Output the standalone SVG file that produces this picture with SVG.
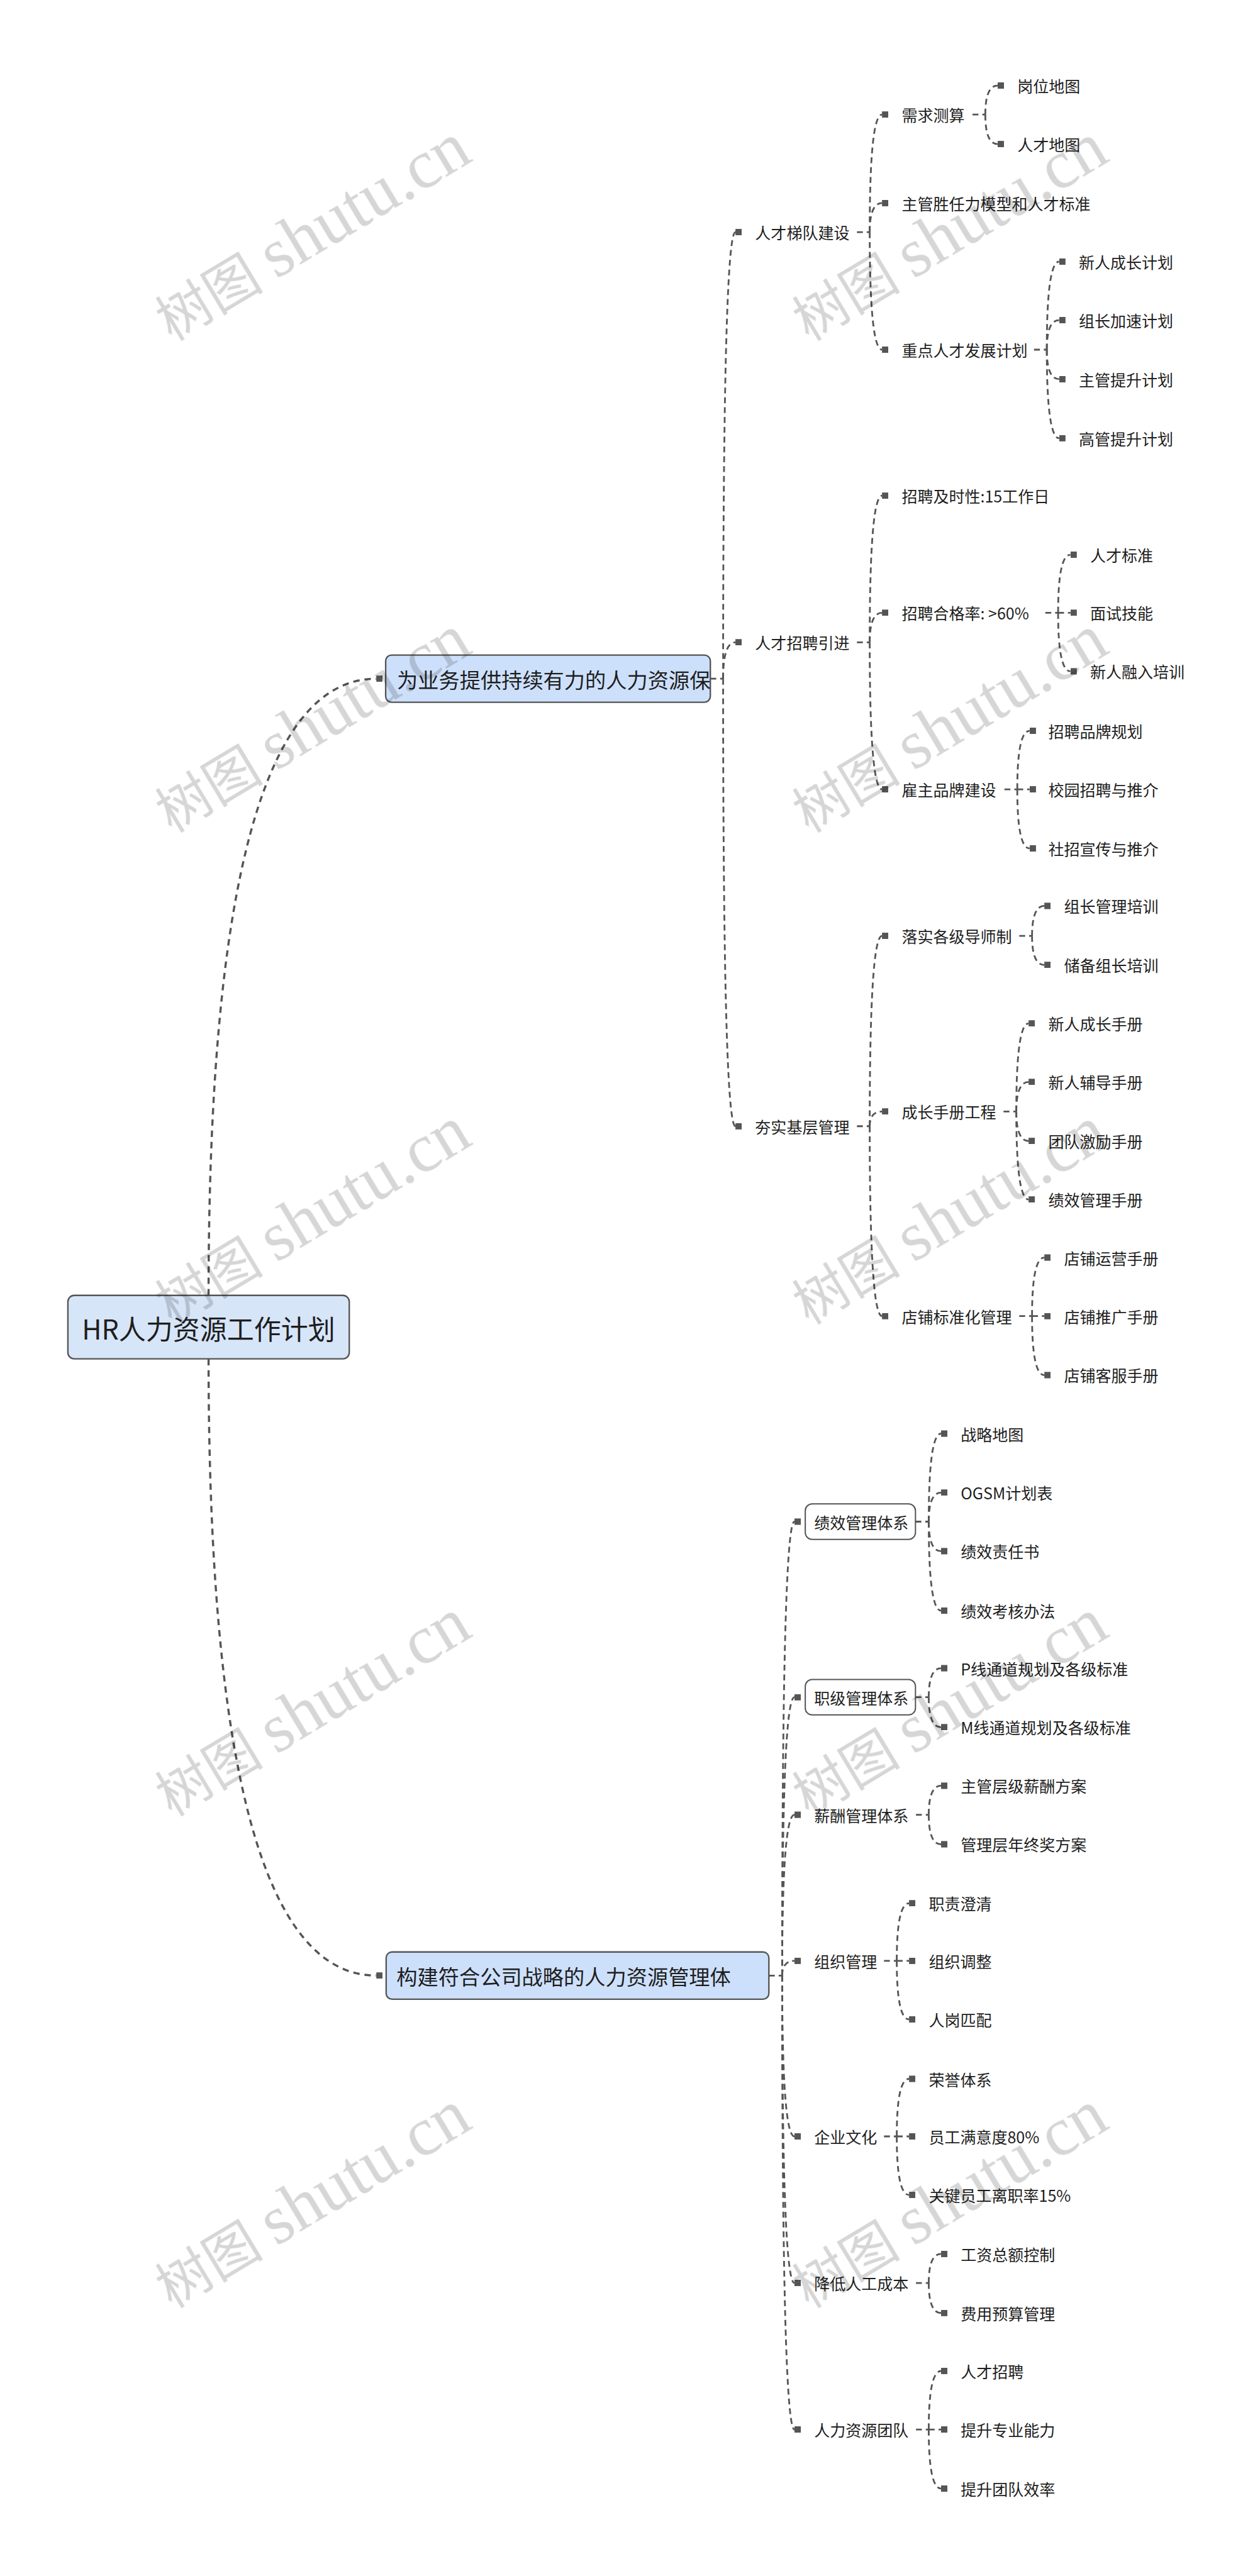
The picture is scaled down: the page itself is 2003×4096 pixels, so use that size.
<svg xmlns="http://www.w3.org/2000/svg" width="2003" height="4096" viewBox="0 0 2003 4096">
<style>
.c{fill:none;stroke:#555;stroke-width:3.6;stroke-dasharray:12 8;marker-end:url(#sq)}
.s{fill:none;stroke:#555;stroke-width:3.6;stroke-dasharray:12 8}
.c0{stroke-width:4.4;stroke-dasharray:13 10}
.t{font-family:"Noto Sans CJK SC","Noto Sans",sans-serif;font-size:32px;fill:#1e1e1e;dominant-baseline:central}
.t1{font-size:42.5px}
.t0{font-size:55px;text-anchor:middle}
.b0{fill:#d7e5f8;stroke:#555;stroke-width:3}
.b1{fill:#cde0fb;stroke:#555;stroke-width:3}
.b2{fill:#fff;stroke:#555;stroke-width:2.6}
.wm{font-family:"Liberation Serif","Noto Sans CJK SC",serif;fill:#d6d6d6;mix-blend-mode:multiply}
</style>
<defs>
<marker id="sq" viewBox="0 0 13 13" refX="0" refY="6.5" markerWidth="13" markerHeight="13" markerUnits="userSpaceOnUse" orient="0"><rect width="13" height="13" fill="#555"/></marker>
</defs>
<rect width="2003" height="4096" fill="#fff"/>
<g transform="scale(0.782)">
<g id="connectors">
<path class="c c0" d="M424 2634Q424 1380 765 1380"/>
<path class="c c0" d="M424 2763Q424 4017 765 4017"/>
<path class="s" d="M1444 1380H1470"/>
<path class="c" d="M1470 1380Q1470 472 1495 472"/>
<path class="c" d="M1470 1380Q1470 1306 1495 1306"/>
<path class="c" d="M1470 1380Q1470 2290 1495 2290"/>
<path class="s" d="M1742 472H1768"/>
<path class="c" d="M1768 472Q1768 233 1793 233"/>
<path class="c" d="M1768 472Q1768 413 1793 413"/>
<path class="c" d="M1768 472Q1768 711 1793 711"/>
<path class="s" d="M1977 233H2003"/>
<path class="c" d="M2003 233Q2003 174 2028 174"/>
<path class="c" d="M2003 233Q2003 293 2028 293"/>
<path class="s" d="M2102 711H2128"/>
<path class="c" d="M2128 711Q2128 532 2153 532"/>
<path class="c" d="M2128 711Q2128 651 2153 651"/>
<path class="c" d="M2128 711Q2128 771 2153 771"/>
<path class="c" d="M2128 711Q2128 891 2153 891"/>
<path class="s" d="M1742 1306H1768"/>
<path class="c" d="M1768 1306Q1768 1008 1793 1008"/>
<path class="c" d="M1768 1306Q1768 1246 1793 1246"/>
<path class="c" d="M1768 1306Q1768 1605 1793 1605"/>
<path class="s" d="M2125 1246H2151"/>
<path class="c" d="M2151 1246Q2151 1128 2176 1128"/>
<path class="c" d="M2151 1246H2176"/>
<path class="c" d="M2151 1246Q2151 1365 2176 1365"/>
<path class="s" d="M2042 1605H2068"/>
<path class="c" d="M2068 1605Q2068 1486 2093 1486"/>
<path class="c" d="M2068 1605H2093"/>
<path class="c" d="M2068 1605Q2068 1725 2093 1725"/>
<path class="s" d="M1742 2290H1768"/>
<path class="c" d="M1768 2290Q1768 1903 1793 1903"/>
<path class="c" d="M1768 2290Q1768 2260 1793 2260"/>
<path class="c" d="M1768 2290Q1768 2676 1793 2676"/>
<path class="s" d="M2072 1903H2098"/>
<path class="c" d="M2098 1903Q2098 1842 2123 1842"/>
<path class="c" d="M2098 1903Q2098 1962 2123 1962"/>
<path class="s" d="M2040 2260H2066"/>
<path class="c" d="M2066 2260Q2066 2081 2091 2081"/>
<path class="c" d="M2066 2260Q2066 2200 2091 2200"/>
<path class="c" d="M2066 2260Q2066 2320 2091 2320"/>
<path class="c" d="M2066 2260Q2066 2439 2091 2439"/>
<path class="s" d="M2072 2676H2098"/>
<path class="c" d="M2098 2676Q2098 2557 2123 2557"/>
<path class="c" d="M2098 2676H2123"/>
<path class="c" d="M2098 2676Q2098 2796 2123 2796"/>
<path class="s" d="M1563 4017H1590"/>
<path class="c" d="M1590 4017Q1590 3094 1615 3094"/>
<path class="c" d="M1590 4017Q1590 3451 1615 3451"/>
<path class="c" d="M1590 4017Q1590 3690 1615 3690"/>
<path class="c" d="M1590 4017Q1590 3987 1615 3987"/>
<path class="c" d="M1590 4017Q1590 4344 1615 4344"/>
<path class="c" d="M1590 4017Q1590 4642 1615 4642"/>
<path class="c" d="M1590 4017Q1590 4940 1615 4940"/>
<path class="s" d="M1861 3094H1888"/>
<path class="c" d="M1888 3094Q1888 2915 1913 2915"/>
<path class="c" d="M1888 3094Q1888 3035 1913 3035"/>
<path class="c" d="M1888 3094Q1888 3154 1913 3154"/>
<path class="c" d="M1888 3094Q1888 3275 1913 3275"/>
<path class="s" d="M1861 3451H1888"/>
<path class="c" d="M1888 3451Q1888 3392 1913 3392"/>
<path class="c" d="M1888 3451Q1888 3512 1913 3512"/>
<path class="s" d="M1862 3690H1888"/>
<path class="c" d="M1888 3690Q1888 3631 1913 3631"/>
<path class="c" d="M1888 3690Q1888 3750 1913 3750"/>
<path class="s" d="M1797 3987H1823"/>
<path class="c" d="M1823 3987Q1823 3870 1848 3870"/>
<path class="c" d="M1823 3987H1848"/>
<path class="c" d="M1823 3987Q1823 4106 1848 4106"/>
<path class="s" d="M1797 4344H1823"/>
<path class="c" d="M1823 4344Q1823 4227 1848 4227"/>
<path class="c" d="M1823 4344H1848"/>
<path class="c" d="M1823 4344Q1823 4463 1848 4463"/>
<path class="s" d="M1862 4642H1888"/>
<path class="c" d="M1888 4642Q1888 4583 1913 4583"/>
<path class="c" d="M1888 4642Q1888 4703 1913 4703"/>
<path class="s" d="M1862 4940H1888"/>
<path class="c" d="M1888 4940Q1888 4821 1913 4821"/>
<path class="c" d="M1888 4940H1913"/>
<path class="c" d="M1888 4940Q1888 5060 1913 5060"/>
</g>
<g id="n0"><rect class="b0" x="138" y="2634" width="572" height="129" rx="13"/><text class="t t0" x="424" y="2699">HR人力资源工作计划</text></g>
<g id="n1"><rect class="b1" x="784" y="1332" width="660" height="96" rx="12"/><text class="t t1" x="807" y="1380">为业务提供持续有力的人力资源保</text></g>
<g id="n1-1"><text class="t" x="1535" y="472">人才梯队建设</text></g>
<g id="n1-1-1"><text class="t" x="1833" y="233">需求测算</text></g>
<g id="n1-1-1-1"><text class="t" x="2068" y="174">岗位地图</text></g>
<g id="n1-1-1-2"><text class="t" x="2068" y="293">人才地图</text></g>
<g id="n1-1-2"><text class="t" x="1833" y="413">主管胜任力模型和人才标准</text></g>
<g id="n1-1-3"><text class="t" x="1833" y="711">重点人才发展计划</text></g>
<g id="n1-1-3-1"><text class="t" x="2193" y="532">新人成长计划</text></g>
<g id="n1-1-3-2"><text class="t" x="2193" y="651">组长加速计划</text></g>
<g id="n1-1-3-3"><text class="t" x="2193" y="771">主管提升计划</text></g>
<g id="n1-1-3-4"><text class="t" x="2193" y="891">高管提升计划</text></g>
<g id="n1-2"><text class="t" x="1535" y="1306">人才招聘引进</text></g>
<g id="n1-2-1"><text class="t" x="1833" y="1008">招聘及时性:15工作日</text></g>
<g id="n1-2-2"><text class="t" x="1833" y="1246">招聘合格率: &gt;60%</text></g>
<g id="n1-2-2-1"><text class="t" x="2216" y="1128">人才标准</text></g>
<g id="n1-2-2-2"><text class="t" x="2216" y="1246">面试技能</text></g>
<g id="n1-2-2-3"><text class="t" x="2216" y="1365">新人融入培训</text></g>
<g id="n1-2-3"><text class="t" x="1833" y="1605">雇主品牌建设</text></g>
<g id="n1-2-3-1"><text class="t" x="2131" y="1486">招聘品牌规划</text></g>
<g id="n1-2-3-2"><text class="t" x="2131" y="1605">校园招聘与推介</text></g>
<g id="n1-2-3-3"><text class="t" x="2131" y="1725">社招宣传与推介</text></g>
<g id="n1-3"><text class="t" x="1535" y="2290">夯实基层管理</text></g>
<g id="n1-3-1"><text class="t" x="1833" y="1903">落实各级导师制</text></g>
<g id="n1-3-1-1"><text class="t" x="2163" y="1842">组长管理培训</text></g>
<g id="n1-3-1-2"><text class="t" x="2163" y="1962">储备组长培训</text></g>
<g id="n1-3-2"><text class="t" x="1833" y="2260">成长手册工程</text></g>
<g id="n1-3-2-1"><text class="t" x="2131" y="2081">新人成长手册</text></g>
<g id="n1-3-2-2"><text class="t" x="2131" y="2200">新人辅导手册</text></g>
<g id="n1-3-2-3"><text class="t" x="2131" y="2320">团队激励手册</text></g>
<g id="n1-3-2-4"><text class="t" x="2131" y="2439">绩效管理手册</text></g>
<g id="n1-3-3"><text class="t" x="1833" y="2676">店铺标准化管理</text></g>
<g id="n1-3-3-1"><text class="t" x="2163" y="2557">店铺运营手册</text></g>
<g id="n1-3-3-2"><text class="t" x="2163" y="2677">店铺推广手册</text></g>
<g id="n1-3-3-3"><text class="t" x="2163" y="2796">店铺客服手册</text></g>
<g id="n2"><rect class="b1" x="785" y="3969" width="778" height="96" rx="12"/><text class="t t1" x="806" y="4017">构建符合公司战略的人力资源管理体</text></g>
<g id="n2-1"><rect class="b2" x="1637" y="3058" width="224" height="72" rx="14"/><text class="t" x="1655" y="3094">绩效管理体系</text></g>
<g id="n2-1-1"><text class="t" x="1953" y="2915">战略地图</text></g>
<g id="n2-1-2"><text class="t" x="1953" y="3035">OGSM计划表</text></g>
<g id="n2-1-3"><text class="t" x="1953" y="3154">绩效责任书</text></g>
<g id="n2-1-4"><text class="t" x="1953" y="3275">绩效考核办法</text></g>
<g id="n2-2"><rect class="b2" x="1637" y="3415" width="224" height="72" rx="14"/><text class="t" x="1655" y="3451">职级管理体系</text></g>
<g id="n2-2-1"><text class="t" x="1953" y="3392">P线通道规划及各级标准</text></g>
<g id="n2-2-2"><text class="t" x="1953" y="3512">M线通道规划及各级标准</text></g>
<g id="n2-3"><text class="t" x="1655" y="3690">薪酬管理体系</text></g>
<g id="n2-3-1"><text class="t" x="1953" y="3631">主管层级薪酬方案</text></g>
<g id="n2-3-2"><text class="t" x="1953" y="3750">管理层年终奖方案</text></g>
<g id="n2-4"><text class="t" x="1655" y="3987">组织管理</text></g>
<g id="n2-4-1"><text class="t" x="1888" y="3870">职责澄清</text></g>
<g id="n2-4-2"><text class="t" x="1888" y="3987">组织调整</text></g>
<g id="n2-4-3"><text class="t" x="1888" y="4106">人岗匹配</text></g>
<g id="n2-5"><text class="t" x="1655" y="4344">企业文化</text></g>
<g id="n2-5-1"><text class="t" x="1888" y="4227">荣誉体系</text></g>
<g id="n2-5-2"><text class="t" x="1888" y="4344">员工满意度80%</text></g>
<g id="n2-5-3"><text class="t" x="1888" y="4463">关键员工离职率15%</text></g>
<g id="n2-6"><text class="t" x="1655" y="4642">降低人工成本</text></g>
<g id="n2-6-1"><text class="t" x="1953" y="4583">工资总额控制</text></g>
<g id="n2-6-2"><text class="t" x="1953" y="4703">费用预算管理</text></g>
<g id="n2-7"><text class="t" x="1655" y="4940">人力资源团队</text></g>
<g id="n2-7-1"><text class="t" x="1953" y="4821">人才招聘</text></g>
<g id="n2-7-2"><text class="t" x="1953" y="4940">提升专业能力</text></g>
<g id="n2-7-3"><text class="t" x="1953" y="5060">提升团队效率</text></g>
<g id="watermark" class="wm">
<text transform="translate(349 695) rotate(-31)"><tspan font-size="110">树图 </tspan><tspan font-size="140">shutu.cn</tspan></text>
<text transform="translate(1644 695) rotate(-31)"><tspan font-size="110">树图 </tspan><tspan font-size="140">shutu.cn</tspan></text>
<text transform="translate(349 1695) rotate(-31)"><tspan font-size="110">树图 </tspan><tspan font-size="140">shutu.cn</tspan></text>
<text transform="translate(1644 1695) rotate(-31)"><tspan font-size="110">树图 </tspan><tspan font-size="140">shutu.cn</tspan></text>
<text transform="translate(349 2695) rotate(-31)"><tspan font-size="110">树图 </tspan><tspan font-size="140">shutu.cn</tspan></text>
<text transform="translate(1644 2695) rotate(-31)"><tspan font-size="110">树图 </tspan><tspan font-size="140">shutu.cn</tspan></text>
<text transform="translate(349 3695) rotate(-31)"><tspan font-size="110">树图 </tspan><tspan font-size="140">shutu.cn</tspan></text>
<text transform="translate(1644 3695) rotate(-31)"><tspan font-size="110">树图 </tspan><tspan font-size="140">shutu.cn</tspan></text>
<text transform="translate(349 4695) rotate(-31)"><tspan font-size="110">树图 </tspan><tspan font-size="140">shutu.cn</tspan></text>
<text transform="translate(1644 4695) rotate(-31)"><tspan font-size="110">树图 </tspan><tspan font-size="140">shutu.cn</tspan></text>
</g>
</g>
</svg>
